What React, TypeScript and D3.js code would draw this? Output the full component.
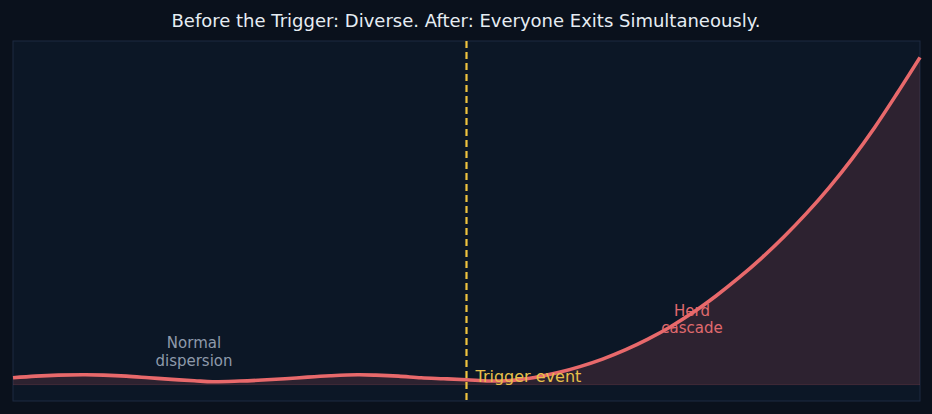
import React from "react";
import * as d3 from "d3";

const W = 932;
const H = 414;

const xValues = [0, 2.5, 5, 8, 10, 12.5, 15, 17.5, 20, 22, 25, 27.5, 30, 32.5, 35, 38, 40, 42.5, 45, 47.5, 50,
  52.5, 55, 57.5, 60, 62.5, 65, 67.5, 70, 72.5, 75, 77.5, 80, 82.5, 85, 87.5, 90, 92.5, 95, 97.5, 100];
const yValues = [0.021, 0.026, 0.029, 0.030, 0.029, 0.026, 0.021, 0.016, 0.012, 0.009, 0.011, 0.014, 0.018, 0.023, 0.027, 0.030, 0.029, 0.026, 0.021, 0.018, 0.015,
  0.011, 0.013, 0.022, 0.036, 0.055, 0.078, 0.106, 0.139, 0.177, 0.221, 0.271, 0.326, 0.386, 0.452, 0.524, 0.603, 0.69, 0.786, 0.891, 1.0];
const triggerX = 50;
const title = "Before the Trigger: Diverse. After: Everyone Exits Simultaneously.";
const normalLabel = ["Normal", "dispersion"];
const herdLabel = ["Herd", "cascade"];
const triggerLabel = "Trigger event";

export default function App() {
  const left = 13, right = 920, top = 41, bottom = 401;
  const x = d3.scaleLinear().domain([0, 100]).range([left, right]);
  const y = d3.scaleLinear().domain([-0.05, 1.05]).range([bottom, top]);
  const pts = xValues.map((v, i) => [v, yValues[i]] as [number, number]);
  const curve = d3.curveCatmullRom.alpha(0.5);
  const line = d3.line<[number, number]>().x(d => x(d[0])).y(d => y(d[1])).curve(curve);
  const area = d3.area<[number, number]>().x(d => x(d[0])).y0(y(0)).y1(d => y(d[1])).curve(curve);
  const font = "'DejaVu Sans', sans-serif";
  return (
    <svg width={W} height={H} style={{ position: "fixed", left: 0, top: 0 }}>
      <rect x={0} y={0} width={W} height={H} fill="#0a111c" />
      <text x={466} y={27} textAnchor="middle" fill="#e6edf3" fontSize={18} fontFamily={font}>{title}</text>
      <rect x={left} y={top} width={right - left} height={bottom - top} fill="#0c1726" stroke="#1c2b40" strokeWidth={1} />
      <path d={area(pts) || ""} fill="#e8686b" fillOpacity={0.15} />
      <line x1={x(0)} x2={x(100)} y1={y(0)} y2={y(0)} stroke="#e8686b" strokeOpacity={0.15} strokeWidth={1} />
      <text textAnchor="middle" fill="#8e9aab" fontSize={15} fontFamily={font}>
        {normalLabel.map((t, i) => <tspan key={i} x={194} y={348 + i * 18}>{t}</tspan>)}
      </text>
      <text textAnchor="middle" fill="#e06a6e" fontSize={15} fontFamily={font}>
        {herdLabel.map((t, i) => <tspan key={i} x={692} y={316 + i * 17}>{t}</tspan>)}
      </text>
      <path d={line(pts) || ""} fill="none" stroke="#e8696b" strokeWidth={3.6} strokeLinejoin="round" />
      <line x1={x(triggerX)} x2={x(triggerX)} y1={top} y2={bottom} stroke="#f0c43e" strokeWidth={2.2} strokeDasharray="7,4" />
      <text x={x(triggerX) + 9} y={382} fill="#e8c04a" fontSize={16} fontFamily={font}>{triggerLabel}</text>
    </svg>
  );
}
